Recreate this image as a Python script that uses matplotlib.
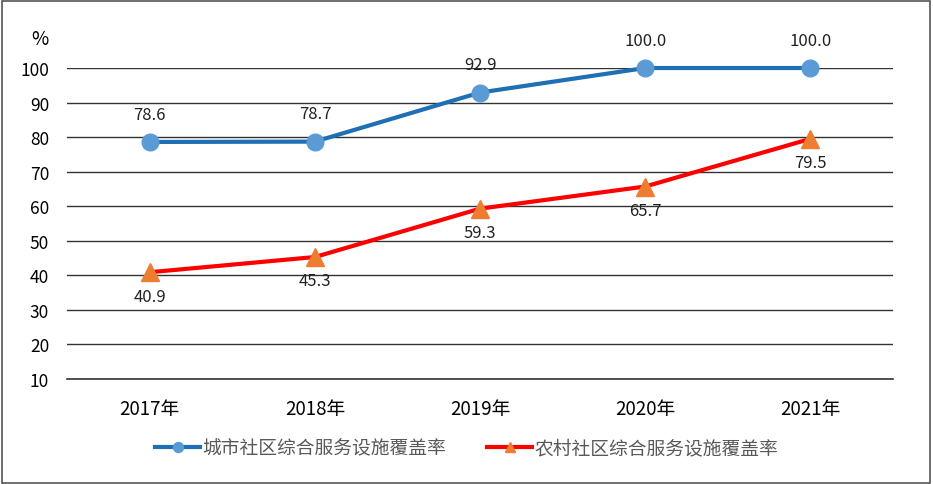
import matplotlib
matplotlib.use("Agg")
import matplotlib.pyplot as plt
from matplotlib.patches import Rectangle

plt.rcParams['font.family'] = ['Noto Sans CJK SC', 'DejaVu Sans']

years = ['2017年', '2018年', '2019年', '2020年', '2021年']
urban = [78.6, 78.7, 92.9, 100.0, 100.0]
rural = [40.9, 45.3, 59.3, 65.7, 79.5]
urban_name = '城市社区综合服务设施覆盖率'
rural_name = '农村社区综合服务设施覆盖率'

fig = plt.figure(figsize=(9.33, 4.85), dpi=100)
ax = fig.add_axes([0.072, 0.2165, 0.885, 0.6412])

x = list(range(len(years)))
ax.plot(x, urban, color='#1f6fb5', lw=3, marker='o', ms=12,
        mfc='#5b9bd5', mec='#5b9bd5', label=urban_name, clip_on=False, zorder=3)
ax.plot(x, rural, color='#ff0000', lw=3, marker='^', ms=13,
        mfc='#ed7d31', mec='#ed7d31', label=rural_name, clip_on=False, zorder=3)

for i, v in enumerate(urban):
    ax.annotate(f'{v:.1f}', (i, v), xytext=(0, 14), textcoords='offset points',
                ha='center', va='bottom', fontsize=12, color='#222222')
for i, v in enumerate(rural):
    ax.annotate(f'{v:.1f}', (i, v), xytext=(0, -11), textcoords='offset points',
                ha='center', va='top', fontsize=12, color='#222222')

ax.set_xlim(-0.5, 4.5)
ax.set_ylim(10, 100)
ax.set_yticks(range(10, 101, 10))
ax.set_xticks(x)
ax.set_xticklabels(years, fontsize=13.5)
ax.tick_params(axis='y', labelsize=12.5, length=0, pad=13)
ax.tick_params(axis='x', length=0, pad=14)
ax.grid(axis='y', color='#333333', lw=1)
ax.axhline(10, color='#333333', lw=1.2, clip_on=False, zorder=1)
ax.set_axisbelow(True)
for s in ax.spines.values():
    s.set_visible(False)

fig.text(0.043, 0.918, '%', fontsize=13.5, ha='center', va='center')

leg = fig.legend(loc='center', bbox_to_anchor=(0.5, 0.074), ncol=2, frameon=False,
                 fontsize=13.5, handlelength=2.4, columnspacing=2.2, handletextpad=0.1,
                 markerscale=0.6)
for t in leg.get_texts():
    t.set_color('#595959')

fig.patches.append(Rectangle((0.002, 0.003), 0.995, 0.993, transform=fig.transFigure,
                             fill=False, edgecolor='#555555', lw=1.2))

fig.savefig('out.png', dpi=100)
